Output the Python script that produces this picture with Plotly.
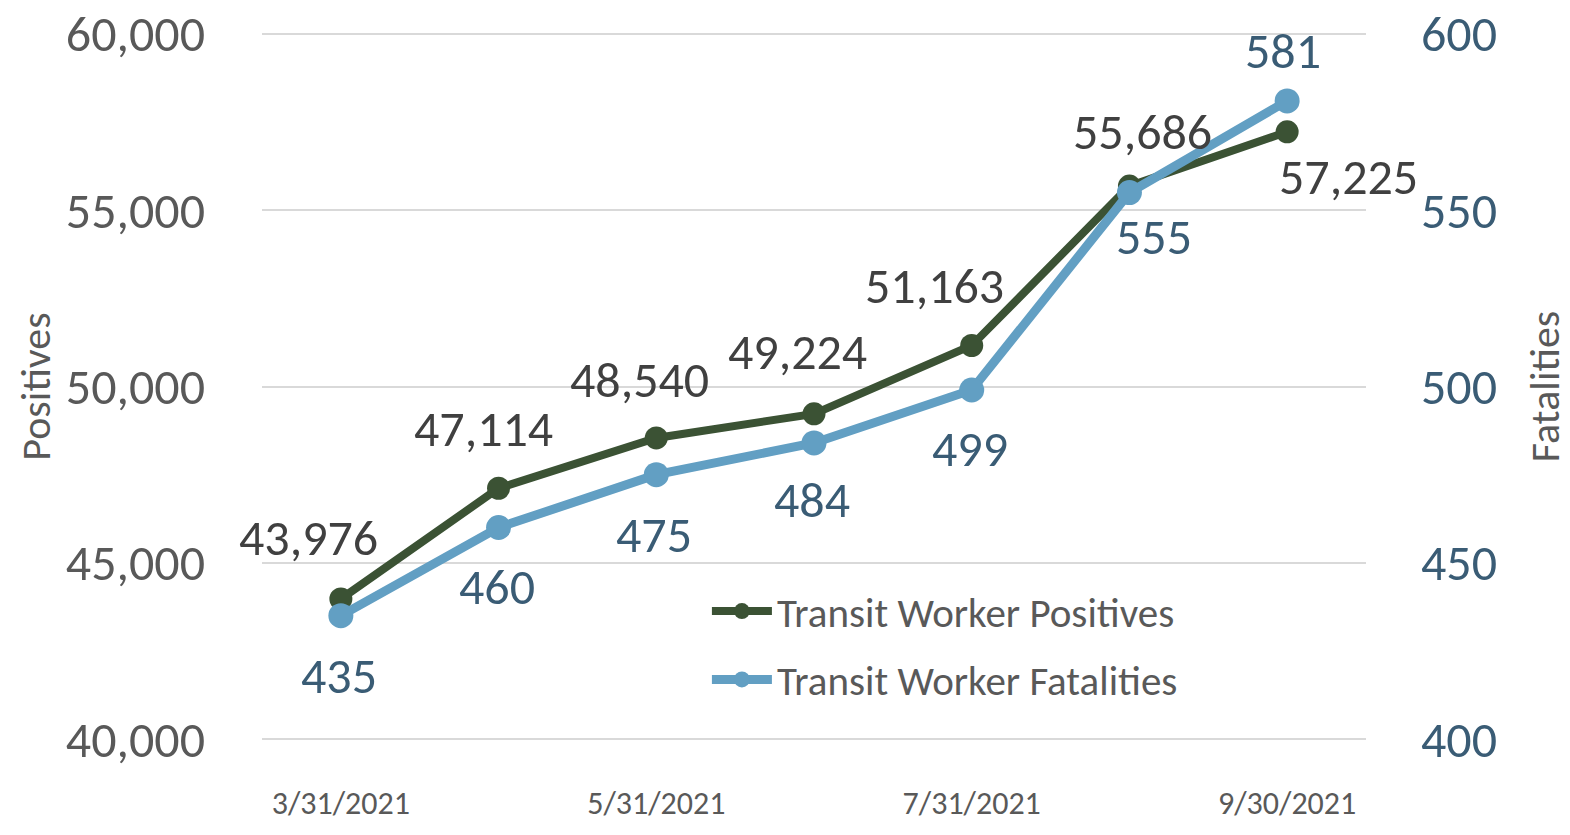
import plotly.graph_objects as go

dates = ["3/31/2021", "4/30/2021", "5/31/2021", "6/30/2021", "7/31/2021", "8/31/2021", "9/30/2021"]
positives = [43976, 47114, 48540, 49224, 51163, 55686, 57225]
fatalities = [435, 460, 475, 484, 499, 555, 581]
tick_dates = ["3/31/2021", "5/31/2021", "7/31/2021", "9/30/2021"]
pos_ticks = [40000, 45000, 50000, 55000, 60000]
fat_ticks = [400, 450, 500, 550, 600]

FONT = "Carlito, Calibri, Lato, sans-serif"
GREEN = "#3B5234"
BLUE = "#629FC3"
BLUE_TXT = "#3A5C75"
GRAY_TXT = "#595959"
LBL_TXT = "#404040"

# label offsets (px) relative to each point: style only
pos_shift = [(-32, 61), (-15, 60), (-17, 58), (-17, 62), (-37, 60), (13, 55), (61, -45)]
fat_shift = [(-2, -60), (-2, -59), (-2, -60), (-2, -57), (-2, -58), (25, -44), (-4, 50)]

fig = go.Figure()
fig.add_trace(go.Scatter(
    x=dates, y=positives, name="Transit Worker Positives", mode="lines+markers",
    line=dict(color=GREEN, width=8), marker=dict(size=23, color=GREEN), yaxis="y",
    legendgroup="p"))
fig.add_trace(go.Scatter(
    x=dates, y=fatalities, name="Transit Worker Fatalities", mode="lines+markers",
    line=dict(color=BLUE, width=9), marker=dict(size=25, color=BLUE), yaxis="y2",
    legendgroup="f"))

for d, v, (dx, dy) in zip(dates, positives, pos_shift):
    fig.add_annotation(x=d, y=v, xref="x", yref="y", text=f"{v:,}", showarrow=False,
                       xshift=dx, yshift=dy, font=dict(family=FONT, size=50, color=LBL_TXT))
for d, v, (dx, dy) in zip(dates, fatalities, fat_shift):
    fig.add_annotation(x=d, y=v, xref="x", yref="y2", text=f"{v:,}", showarrow=False,
                       xshift=dx, yshift=dy, font=dict(family=FONT, size=50, color=BLUE_TXT))

pad_p = 55
pad_f = pad_p / 100.0

fig.update_layout(
    width=1570, height=835,
    margin=dict(l=262, r=204, t=32, b=94, autoexpand=False),
    paper_bgcolor="white", plot_bgcolor="white",
    font=dict(family=FONT, color=GRAY_TXT),
    showlegend=True,
    legend=dict(x=0.403, y=0.23, xanchor="left", yanchor="top",
                font=dict(family=FONT, size=41, color=GRAY_TXT),
                bgcolor="rgba(0,0,0,0)", itemwidth=60, tracegroupgap=12),
    xaxis=dict(type="category", categoryorder="array", categoryarray=dates,
               range=[-0.5, 6.5], tickmode="array", tickvals=tick_dates, ticktext=tick_dates,
               showgrid=False, showline=False, zeroline=False,
               ticks="outside", ticklen=34, tickcolor="rgba(0,0,0,0)",
               tickfont=dict(family=FONT, size=32, color=GRAY_TXT), automargin=False,
               ticklabeloverflow="allow"),
    yaxis=dict(range=[pos_ticks[0] - pad_p, pos_ticks[-1] + pad_p], tickvals=pos_ticks, tickformat=",d",
               showgrid=True, gridcolor="#D9D9D9", gridwidth=2,
               showline=False, zeroline=False,
               ticks="outside", ticklen=46, tickcolor="rgba(0,0,0,0)",
               tickfont=dict(family=FONT, size=50, color=GRAY_TXT),
               title=dict(text="Positives", font=dict(family=FONT, size=42, color=GRAY_TXT), standoff=2),
               automargin=False, ticklabeloverflow="allow"),
    yaxis2=dict(range=[fat_ticks[0] - pad_f, fat_ticks[-1] + pad_f], tickvals=fat_ticks,
                overlaying="y", side="right",
                showgrid=False, showline=False, zeroline=False,
                ticks="outside", ticklen=44, tickcolor="rgba(0,0,0,0)",
                tickfont=dict(family=FONT, size=50, color=BLUE_TXT),
                title=dict(text="Fatalities", font=dict(family=FONT, size=42, color=GRAY_TXT), standoff=67),
                automargin=False, ticklabeloverflow="allow"),
)

fig.write_html("out.html", config={"displayModeBar": False},
               post_script="document.body.style.margin='0';")
